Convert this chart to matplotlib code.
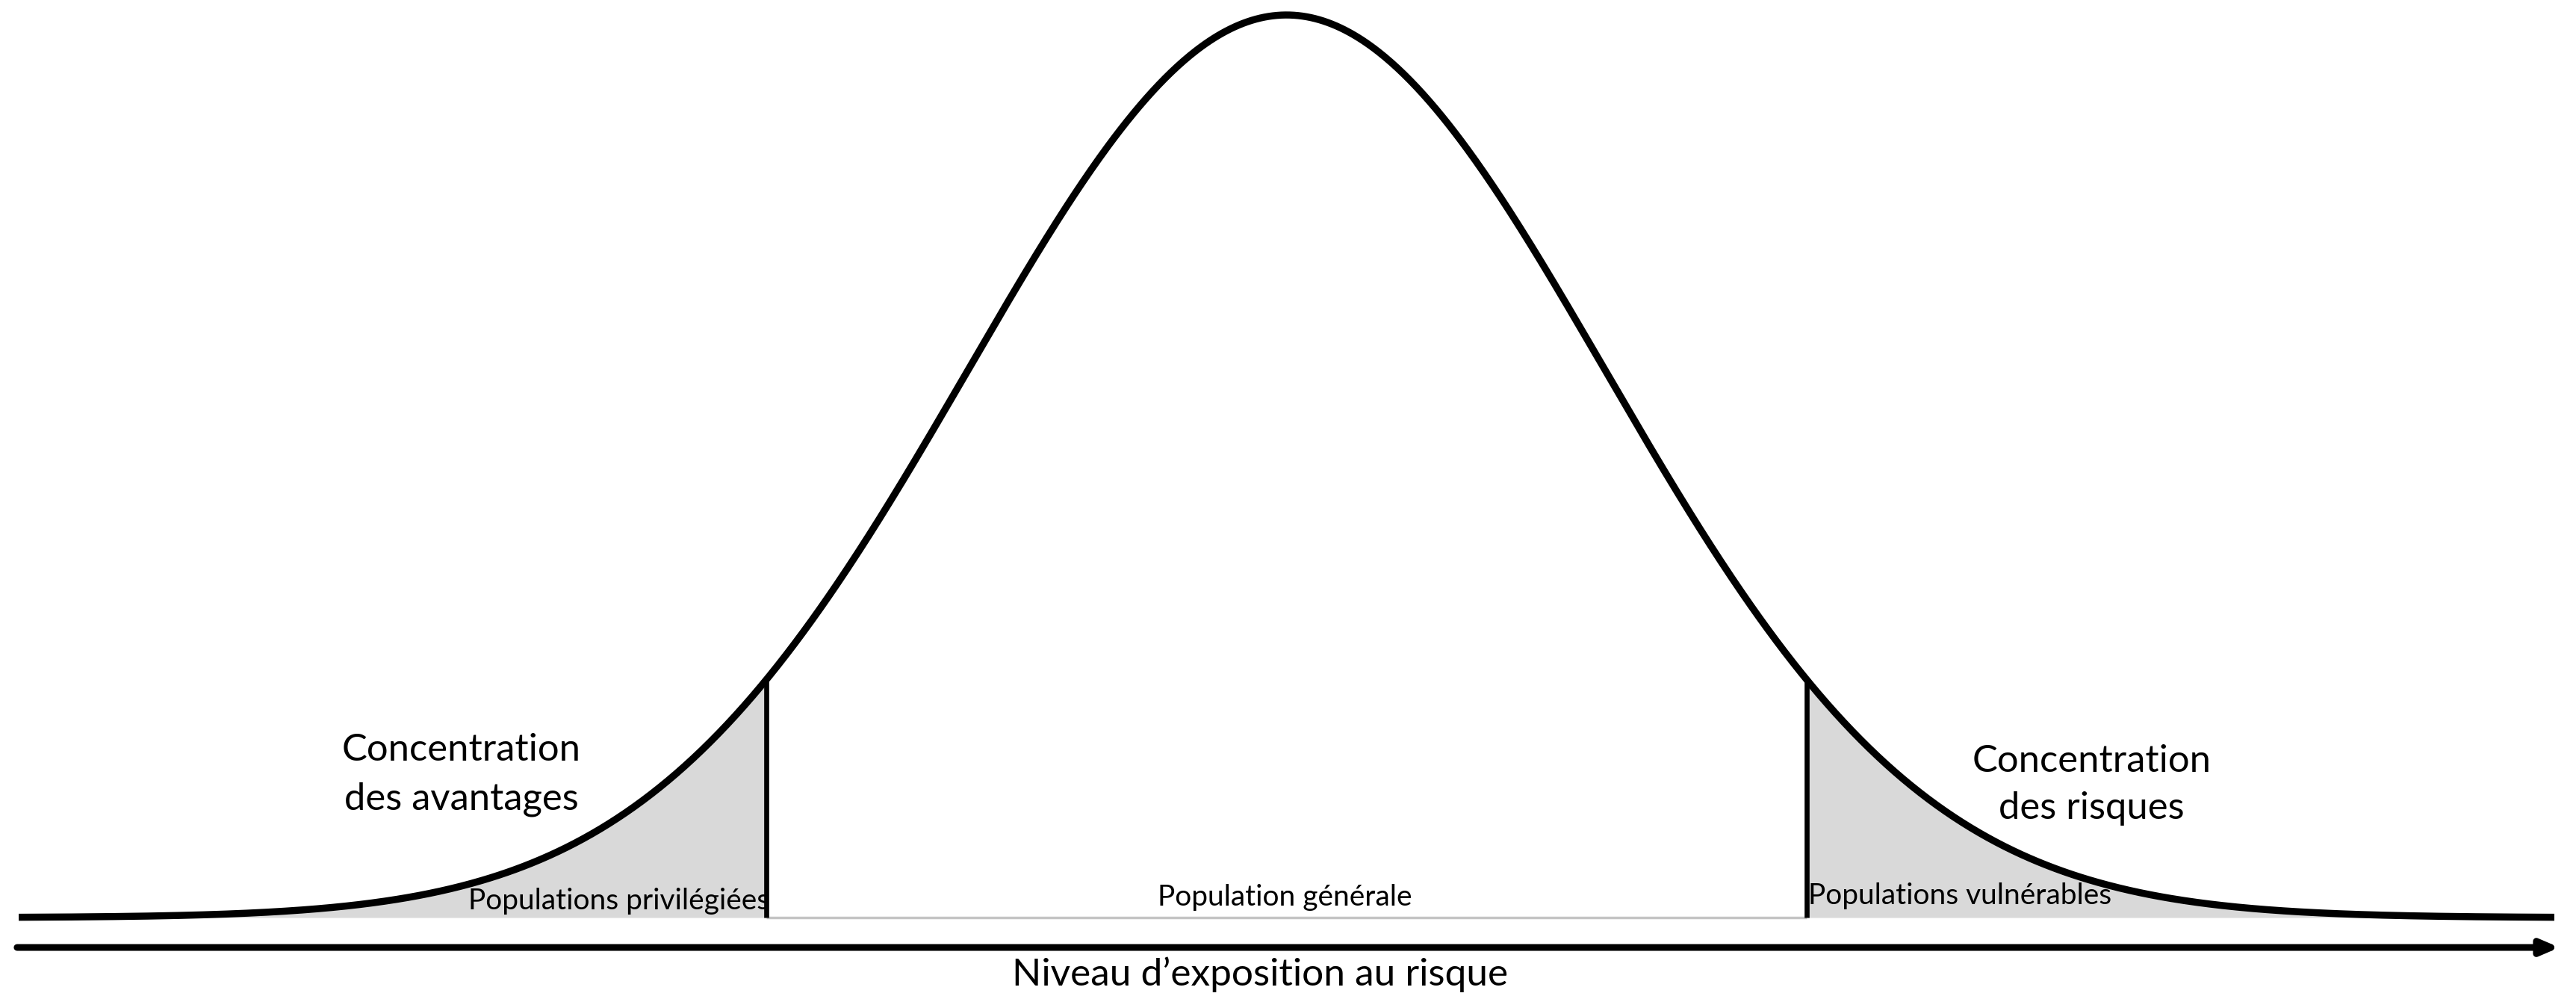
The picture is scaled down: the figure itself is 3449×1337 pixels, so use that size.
import numpy as np
import matplotlib.pyplot as plt

plt.rcParams['font.family'] = ['Lato', 'DejaVu Sans']

# schematic bell curve, in units of spread around the centre
curve_range = [-3.98, 3.98]
cutoffs = [-1.633, 1.633]          # edges of the shaded tails
group_labels = ["Populations privilégiées", "Population générale", "Populations vulnérables"]
tail_titles = ["Concentration\ndes avantages", "Concentration\ndes risques"]
axis_title = "Niveau d\u2019exposition au risque"

z = np.linspace(curve_range[0], curve_range[1], 1200)
h = np.exp(-z ** 2 / 2)
h_cut = np.exp(-np.array(cutoffs) ** 2 / 2)

fig = plt.figure(figsize=(34.49, 13.37), dpi=100)
ax = fig.add_axes([0, 0, 1, 1])
ax.set_xlim(-4.0387, 4.048)
ax.set_ylim(-0.0902, 1.0166)
ax.axis('off')

fill_col = '#d9d9d9'
left = z <= cutoffs[0]
right = z >= cutoffs[1]
ax.fill_between(z[left], 0, h[left], color=fill_col, lw=0, zorder=1)
ax.fill_between(z[right], 0, h[right], color=fill_col, lw=0, zorder=1)

# grey floor under the middle part
ax.plot(cutoffs, [0, 0], color='#c4c4c4', lw=2.5, zorder=2, solid_capstyle='butt')

# cut-off lines
for c, hc in zip(cutoffs, h_cut):
    ax.plot([c, c], [0, hc], color='black', lw=4.8, zorder=4, solid_capstyle='butt')

ax.plot(z, h, color='black', lw=6.8, zorder=5, solid_capstyle='butt')

# exposure axis arrow
ax.annotate('', xy=(3.996, -0.0331), xytext=(curve_range[0] - 0.005, -0.0331),
            arrowprops=dict(arrowstyle='-|>,head_length=0.7,head_width=0.3',
                            mutation_scale=20, lw=6.5, color='black',
                            shrinkA=0, shrinkB=0), zorder=5)
ax.text(-0.083, -0.063, axis_title, fontsize=37, ha='center', va='center')

ax.text(-2.59, 0.158, tail_titles[0], fontsize=36.5, ha='center', va='center',
        linespacing=1.52, zorder=6)
ax.text(2.527, 0.147, tail_titles[1], fontsize=36.5, ha='center', va='center',
        linespacing=1.45, zorder=6)

ax.text(cutoffs[0] + 0.01, 0.018, group_labels[0], fontsize=28, ha='right', va='center', zorder=3)
ax.text(-0.006, 0.022, group_labels[1], fontsize=28, ha='center', va='center', zorder=3)
ax.text(cutoffs[1] + 0.005, 0.0237, group_labels[2], fontsize=28, ha='left', va='center', zorder=3)

fig.savefig('out.png', dpi=100)
